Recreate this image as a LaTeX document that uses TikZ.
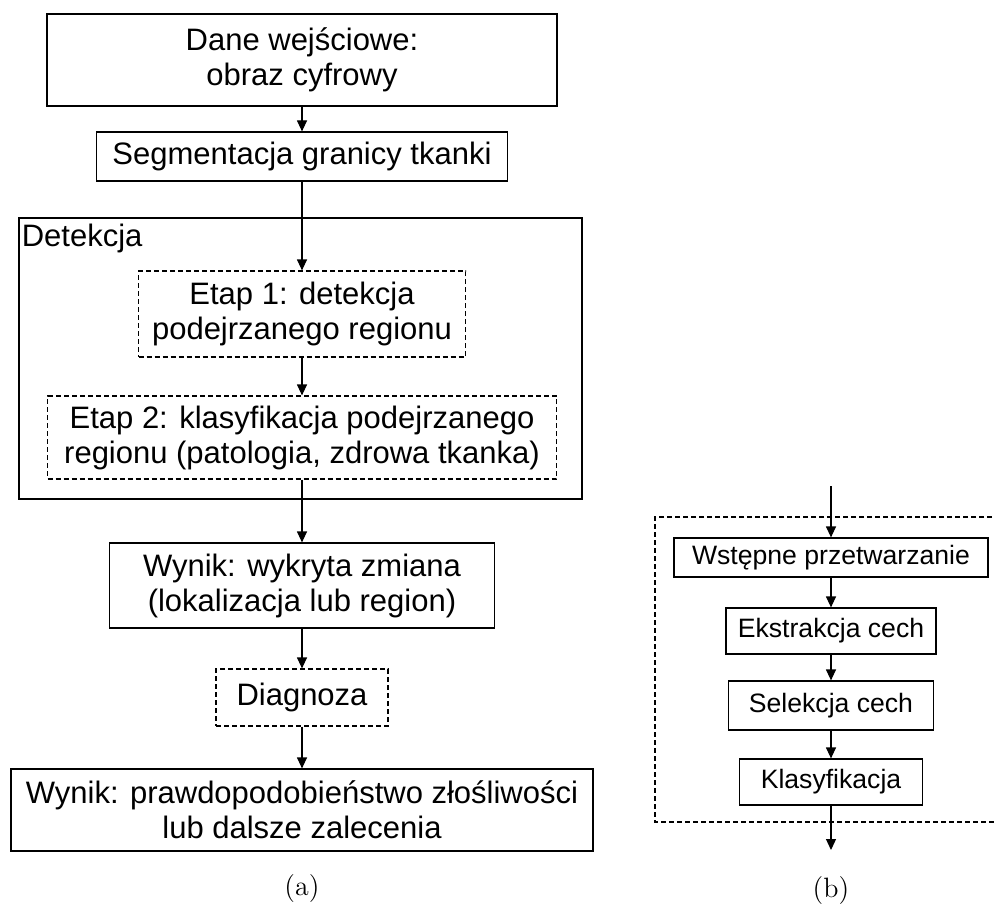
\documentclass[tikz,border=0pt]{standalone}
\usepackage{fontspec}
\newfontfamily\arialfont{Liberation Sans}
\usetikzlibrary{arrows.meta}

\tikzset{
  box/.style={draw, line width=0.6pt, inner sep=0pt, align=center, font=\arialfont\fontsize{15.5}{17.5}\selectfont},
  dbox/.style={box, dash pattern=on 2.5pt off 1.5pt},
  sbox/.style={draw, line width=0.6pt, inner sep=0pt, align=center, font=\arialfont\fontsize{13.3}{16}\selectfont},
  arr/.style={-{Triangle[length=5.5pt,width=5pt]}, line width=0.6pt},
  caption/.style={font=\fontsize{14}{16}\selectfont},
}

\begin{document}
\begin{tikzpicture}[x=0.5pt, y=-0.5pt]
\useasboundingbox (0,0) rectangle (995,904);

% (a)
\node (input) [box, minimum width=255pt, minimum height=46pt] at (302,60) {Dane wejściowe:\\obraz cyfrowy};
\node (seg) [box, minimum width=205.5pt, minimum height=24.5pt] at (302,156.5) {Segmentacja granicy tkanki};
\draw[arr] (input) -- (seg);

\node (detect) [draw, line width=0.6pt, minimum width=281.5pt, minimum height=140.5pt] at (300.5,358.5) {};
\node (detectlbl) [anchor=north west, inner xsep=1.5pt, inner ysep=3pt, font=\arialfont\fontsize{15.5}{17.5}\selectfont] at (detect.north west) {Detekcja};

\node (step1) [dbox, minimum width=163.5pt, minimum height=43pt] at (302,314) {Etap 1: detekcja\\podejrzanego regionu};
\draw[arr] (seg) -- (step1);

\node (step2) [dbox, minimum width=254.5pt, minimum height=41.5pt] at (302,437.5) {Etap 2: klasyfikacja podejrzanego\\regionu (patologia, zdrowa tkanka)};
\draw[arr] (step1) -- (step2);

\node (result1) [box, minimum width=192.5pt, minimum height=42.5pt] at (302,585.5) {Wynik: wykryta zmiana\\(lokalizacja lub region)};
\draw[arr] (step2) -- (result1);

\node (diag) [dbox, minimum width=86pt, minimum height=28.5pt] at (302,697.5) {Diagnoza};
\draw[arr] (result1) -- (diag);

\node (result2) [box, minimum width=291pt, minimum height=41pt] at (302,810) {Wynik: prawdopodobieństwo złośliwości\\lub dalsze zalecenia};
\draw[arr] (diag) -- (result2);

\node (capa) [caption] at (302,889) {(a)};

% (b)
\draw[line width=0.6pt, dash pattern=on 2.5pt off 1.5pt] (1000,517) -- (655,517) -- (655,822) -- (1000,822);

\coordinate (in) at (831,486);
\coordinate (out) at (831,850);

\node (prep) [sbox, minimum width=157pt, minimum height=19.5pt] at (831,557.5) {Wstępne przetwarzanie};
\draw[arr] (in) -- (prep);

\node (extr) [sbox, minimum width=105pt, minimum height=23pt] at (831,631) {Ekstrakcja cech};
\draw[arr] (prep) -- (extr);

\node (sel) [sbox, minimum width=102.5pt, minimum height=24.5pt] at (831,705.5) {Selekcja cech};
\draw[arr] (extr) -- (sel);

\node (cls) [sbox, minimum width=91.5pt, minimum height=23pt] at (831,782) {Klasyfikacja};
\draw[arr] (sel) -- (cls);
\draw[arr] (cls) -- (out);

\node (capb) [caption] at (831,891) {(b)};

\end{tikzpicture}
\end{document}
